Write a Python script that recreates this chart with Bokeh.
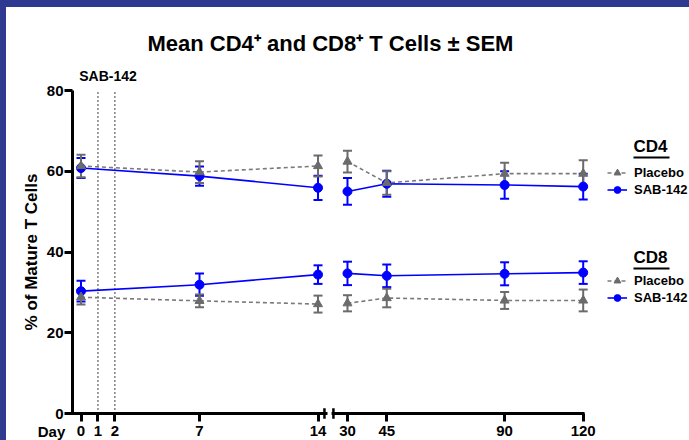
from bokeh.plotting import figure
from bokeh.models import (ColumnDataSource, FixedTicker, Range1d, Whisker, TeeHead,
                          Legend, LegendItem, Label)
from bokeh.embed import file_html
from bokeh.resources import INLINE

# ---------------- data ----------------
DAYS = [0, 7, 14, 30, 45, 90, 120]
CD4_PLACEBO = [61.3, 59.8, 61.3, 62.4, 57.1, 59.4, 59.4]
CD4_PLACEBO_SEM = [2.8, 2.7, 2.6, 2.7, 2.9, 2.7, 3.3]
CD4_SAB = [60.8, 58.8, 55.9, 55.0, 56.9, 56.6, 56.2]
CD4_SAB_SEM = [2.5, 2.4, 3.0, 3.3, 3.2, 3.4, 3.2]
CD8_PLACEBO = [28.8, 27.9, 27.1, 27.3, 28.6, 28.0, 28.0]
CD8_PLACEBO_SEM = [1.8, 1.6, 2.1, 2.0, 2.3, 2.1, 2.7]
CD8_SAB = [30.3, 31.9, 34.4, 34.7, 34.1, 34.6, 34.9]
CD8_SAB_SEM = [2.55, 2.75, 2.3, 2.9, 2.8, 2.85, 2.8]
DOSING_DAYS = [1, 2]
X_TICK_DAYS = [0, 1, 2, 7, 14, 30, 45, 90, 120]
Y_TICKS = [0, 20, 40, 60, 80]
TITLE = "Mean CD4\u207a and CD8\u207a T Cells \u00b1 SEM"
Y_LABEL = "% of Mature T Cells"
X_NAME = "Day"
GROUPS = ["Placebo", "SAB-142"]
PANELS = ["CD4", "CD8"]

# ---------------- layout / broken axis ----------------
FONT = "Liberation Sans"
W, H = 689, 440
B_TOP = 58
DAY0_PX, DAY_PX = 80.5, 16.93      # pixel of day 0, pixels per left-segment unit
Y0_PX, Y_PX = 413.0, 4.0375        # pixel of 0 %, pixels per % point
X_START = -DAY0_PX / DAY_PX
X_END = (W - DAY0_PX) / DAY_PX
Y_START = (Y0_PX - H) / Y_PX
Y_END = (Y0_PX - B_TOP) / Y_PX
Y_AXIS_U = (72 - DAY0_PX) / DAY_PX   # where the y axis sits
LEFT_MAX = 14          # last day of the left segment
RIGHT_MIN = 30         # first day of the right segment
RIGHT_U0 = 15.74       # plot position of day 30
RIGHT_K = 0.1547       # plot units per day on the right segment
BREAK_L, BREAK_R = 14.56, 14.80
BREAK_MARKS = [14.38, 14.91]
TICK_OUT = 8
X_LABEL_STANDOFF = 4
DAY_LABEL_OFFSET = 9


def to_u(d):
    return d if d <= LEFT_MAX else round(RIGHT_U0 + (d - RIGHT_MIN) * RIGHT_K, 4)


def px_u(px):
    return (px - DAY0_PX) / DAY_PX


def px_y(py):
    return (Y0_PX - py) / Y_PX


BLUE = "#0000FF"
GRAY = "#6B6B6B"
GRAY_LINE = "#7A7A7A"
NAVY = "#2E3A8F"

p = figure(width=W, height=H, output_backend="svg", toolbar_location=None,
           x_range=Range1d(X_START, X_END), y_range=Range1d(Y_START, Y_END),
           min_border_left=0, min_border_right=0,
           min_border_top=B_TOP, min_border_bottom=0)
p.outline_line_color = None
p.grid.visible = False
p.background_fill_color = None
p.border_fill_color = None
p.styles = {"background": ("linear-gradient(%s,%s) 0 0 / 100%% 7px no-repeat, "
                           "linear-gradient(%s,%s) 0 0 / 6px 100%% no-repeat, #ffffff")
            % (NAVY, NAVY, NAVY, NAVY)}

# title
p.title.text = TITLE
p.title.align = "left"
p.title.offset = 147
p.title.text_font = FONT
p.title.text_font_size = "22px"
p.title.text_font_style = "bold"
p.title.text_color = "black"
p.title.standoff = 6

# y axis (drawn at a fixed location inside the canvas)
ya = p.yaxis[0]
ya.fixed_location = Y_AXIS_U
ya.ticker = FixedTicker(ticks=Y_TICKS)
ya.bounds = (0, 80)
ya.axis_line_width = 3
ya.axis_line_color = "black"
ya.major_tick_line_width = 3
ya.major_tick_out = TICK_OUT
ya.major_tick_in = 0
ya.minor_tick_line_color = None
ya.major_label_text_font = FONT
ya.major_label_text_font_size = "15px"
ya.major_label_text_font_style = "bold"
ya.major_label_text_color = "black"
ya.major_label_standoff = 1
ya.axis_label = Y_LABEL
ya.axis_label_text_font = FONT
ya.axis_label_text_font_size = "17px"
ya.axis_label_text_font_style = "bold"
ya.axis_label_text_color = "black"
ya.axis_label_standoff = 3

# x axis at y = 0 (ticks + labels; line drawn as broken segments)
xa = p.xaxis[0]
xa.fixed_location = 0
xt = [to_u(d) for d in X_TICK_DAYS]
xa.ticker = FixedTicker(ticks=xt)
xa.major_label_overrides = {t: str(d) for t, d in zip(xt, X_TICK_DAYS)}
xa.axis_line_color = None
xa.major_tick_line_width = 3
xa.major_tick_line_color = "black"
xa.major_tick_out = TICK_OUT
xa.major_tick_in = 0
xa.minor_tick_line_color = None
xa.major_label_text_font = FONT
xa.major_label_text_font_size = "15px"
xa.major_label_text_font_style = "bold"
xa.major_label_text_color = "black"
xa.major_label_standoff = X_LABEL_STANDOFF

# broken x-axis line and break marks
p.segment(x0=[px_u(70.5), BREAK_R], x1=[BREAK_L, to_u(120) + 0.08], y0=[0, 0], y1=[0, 0],
          line_width=3, line_color="black")
p.segment(x0=BREAK_MARKS, x1=BREAK_MARKS, y0=[-1.3, -1.3], y1=[1.3, 1.3],
          line_width=2.5, line_color="black")

# dosing day dotted lines
p.segment(x0=DOSING_DAYS, x1=DOSING_DAYS, y0=[0] * len(DOSING_DAYS), y1=[80] * len(DOSING_DAYS),
          line_width=1.5, line_color="black", line_dash="1 3")
p.add_layout(Label(x=px_u(107.5), y=px_y(75), text="SAB-142",
                   text_font=FONT, text_font_size="14px", text_font_style="bold",
                   text_align="center", text_baseline="middle", text_color="black"))
p.add_layout(Label(x=px_u(51), y=-DAY_LABEL_OFFSET / Y_PX, text=X_NAME,
                   text_font=FONT, text_font_size="15px", text_font_style="bold",
                   text_align="center", text_baseline="top", text_color="black"))

U = [to_u(d) for d in DAYS]
left_idx = [i for i, d in enumerate(DAYS) if d <= LEFT_MAX]
right_idx = [i for i, d in enumerate(DAYS) if d >= RIGHT_MIN]


def draw_series(vals, sems, color, line_color, dash, marker, size):
    src = ColumnDataSource(dict(x=U, y=vals,
                                lo=[v - s for v, s in zip(vals, sems)],
                                hi=[v + s for v, s in zip(vals, sems)]))
    p.add_layout(Whisker(source=src, base="x", upper="hi", lower="lo",
                         line_color=color, line_width=2,
                         upper_head=TeeHead(size=9, line_color=color, line_width=2),
                         lower_head=TeeHead(size=9, line_color=color, line_width=2)))
    lines = []
    for idx in (left_idx, right_idx):
        lr = p.line([U[i] for i in idx], [vals[i] for i in idx], line_color=line_color,
                    line_width=1.6, line_dash=dash)
        lines.append(lr)
    sc = p.scatter("x", "y", source=src, marker=marker, size=size,
                   fill_color=color, line_color=color)
    return lines[0], sc


series = {}
for panel, (pv, ps, sv, ss) in zip(PANELS, [(CD4_PLACEBO, CD4_PLACEBO_SEM, CD4_SAB, CD4_SAB_SEM),
                                            (CD8_PLACEBO, CD8_PLACEBO_SEM, CD8_SAB, CD8_SAB_SEM)]):
    s_line, s_sc = draw_series(sv, ss, BLUE, BLUE, "solid", "circle", 9)
    p_line, p_sc = draw_series(pv, ps, GRAY, GRAY_LINE, "4 3", "triangle", 9)
    series[panel] = [(p_line, p_sc), (s_line, s_sc)]

# legends (two groups, each with an underlined header); location in px from frame bottom-left
HEADER_Y_PX = {"CD4": 146, "CD8": 257}
LEGEND_BOTTOM_PX = {"CD4": 197.5, "CD8": 305.5}
for panel in PANELS:
    items = [LegendItem(label=g, renderers=list(r)) for g, r in zip(GROUPS, series[panel])]
    lg = Legend(items=items, location=(607, H - LEGEND_BOTTOM_PX[panel]),
                border_line_color=None, background_fill_alpha=0, padding=0, margin=0,
                spacing=0, label_height=17, glyph_height=17, glyph_width=20,
                label_standoff=7, label_text_font=FONT, label_text_font_size="13px",
                label_text_font_style="bold", label_text_color="black")
    p.add_layout(lg)
    p.add_layout(Label(x=px_u(633), y=px_y(HEADER_Y_PX[panel]), text=panel,
                       text_font=FONT, text_font_size="17px", text_font_style="bold",
                       text_align="left", text_baseline="middle", text_color="black"))
    p.segment(x0=[px_u(633)], x1=[px_u(669)], y0=[px_y(HEADER_Y_PX[panel] + 11)],
              y1=[px_y(HEADER_Y_PX[panel] + 11)], line_width=2, line_color="black")

open("out.html", "w").write(file_html(p, INLINE))
